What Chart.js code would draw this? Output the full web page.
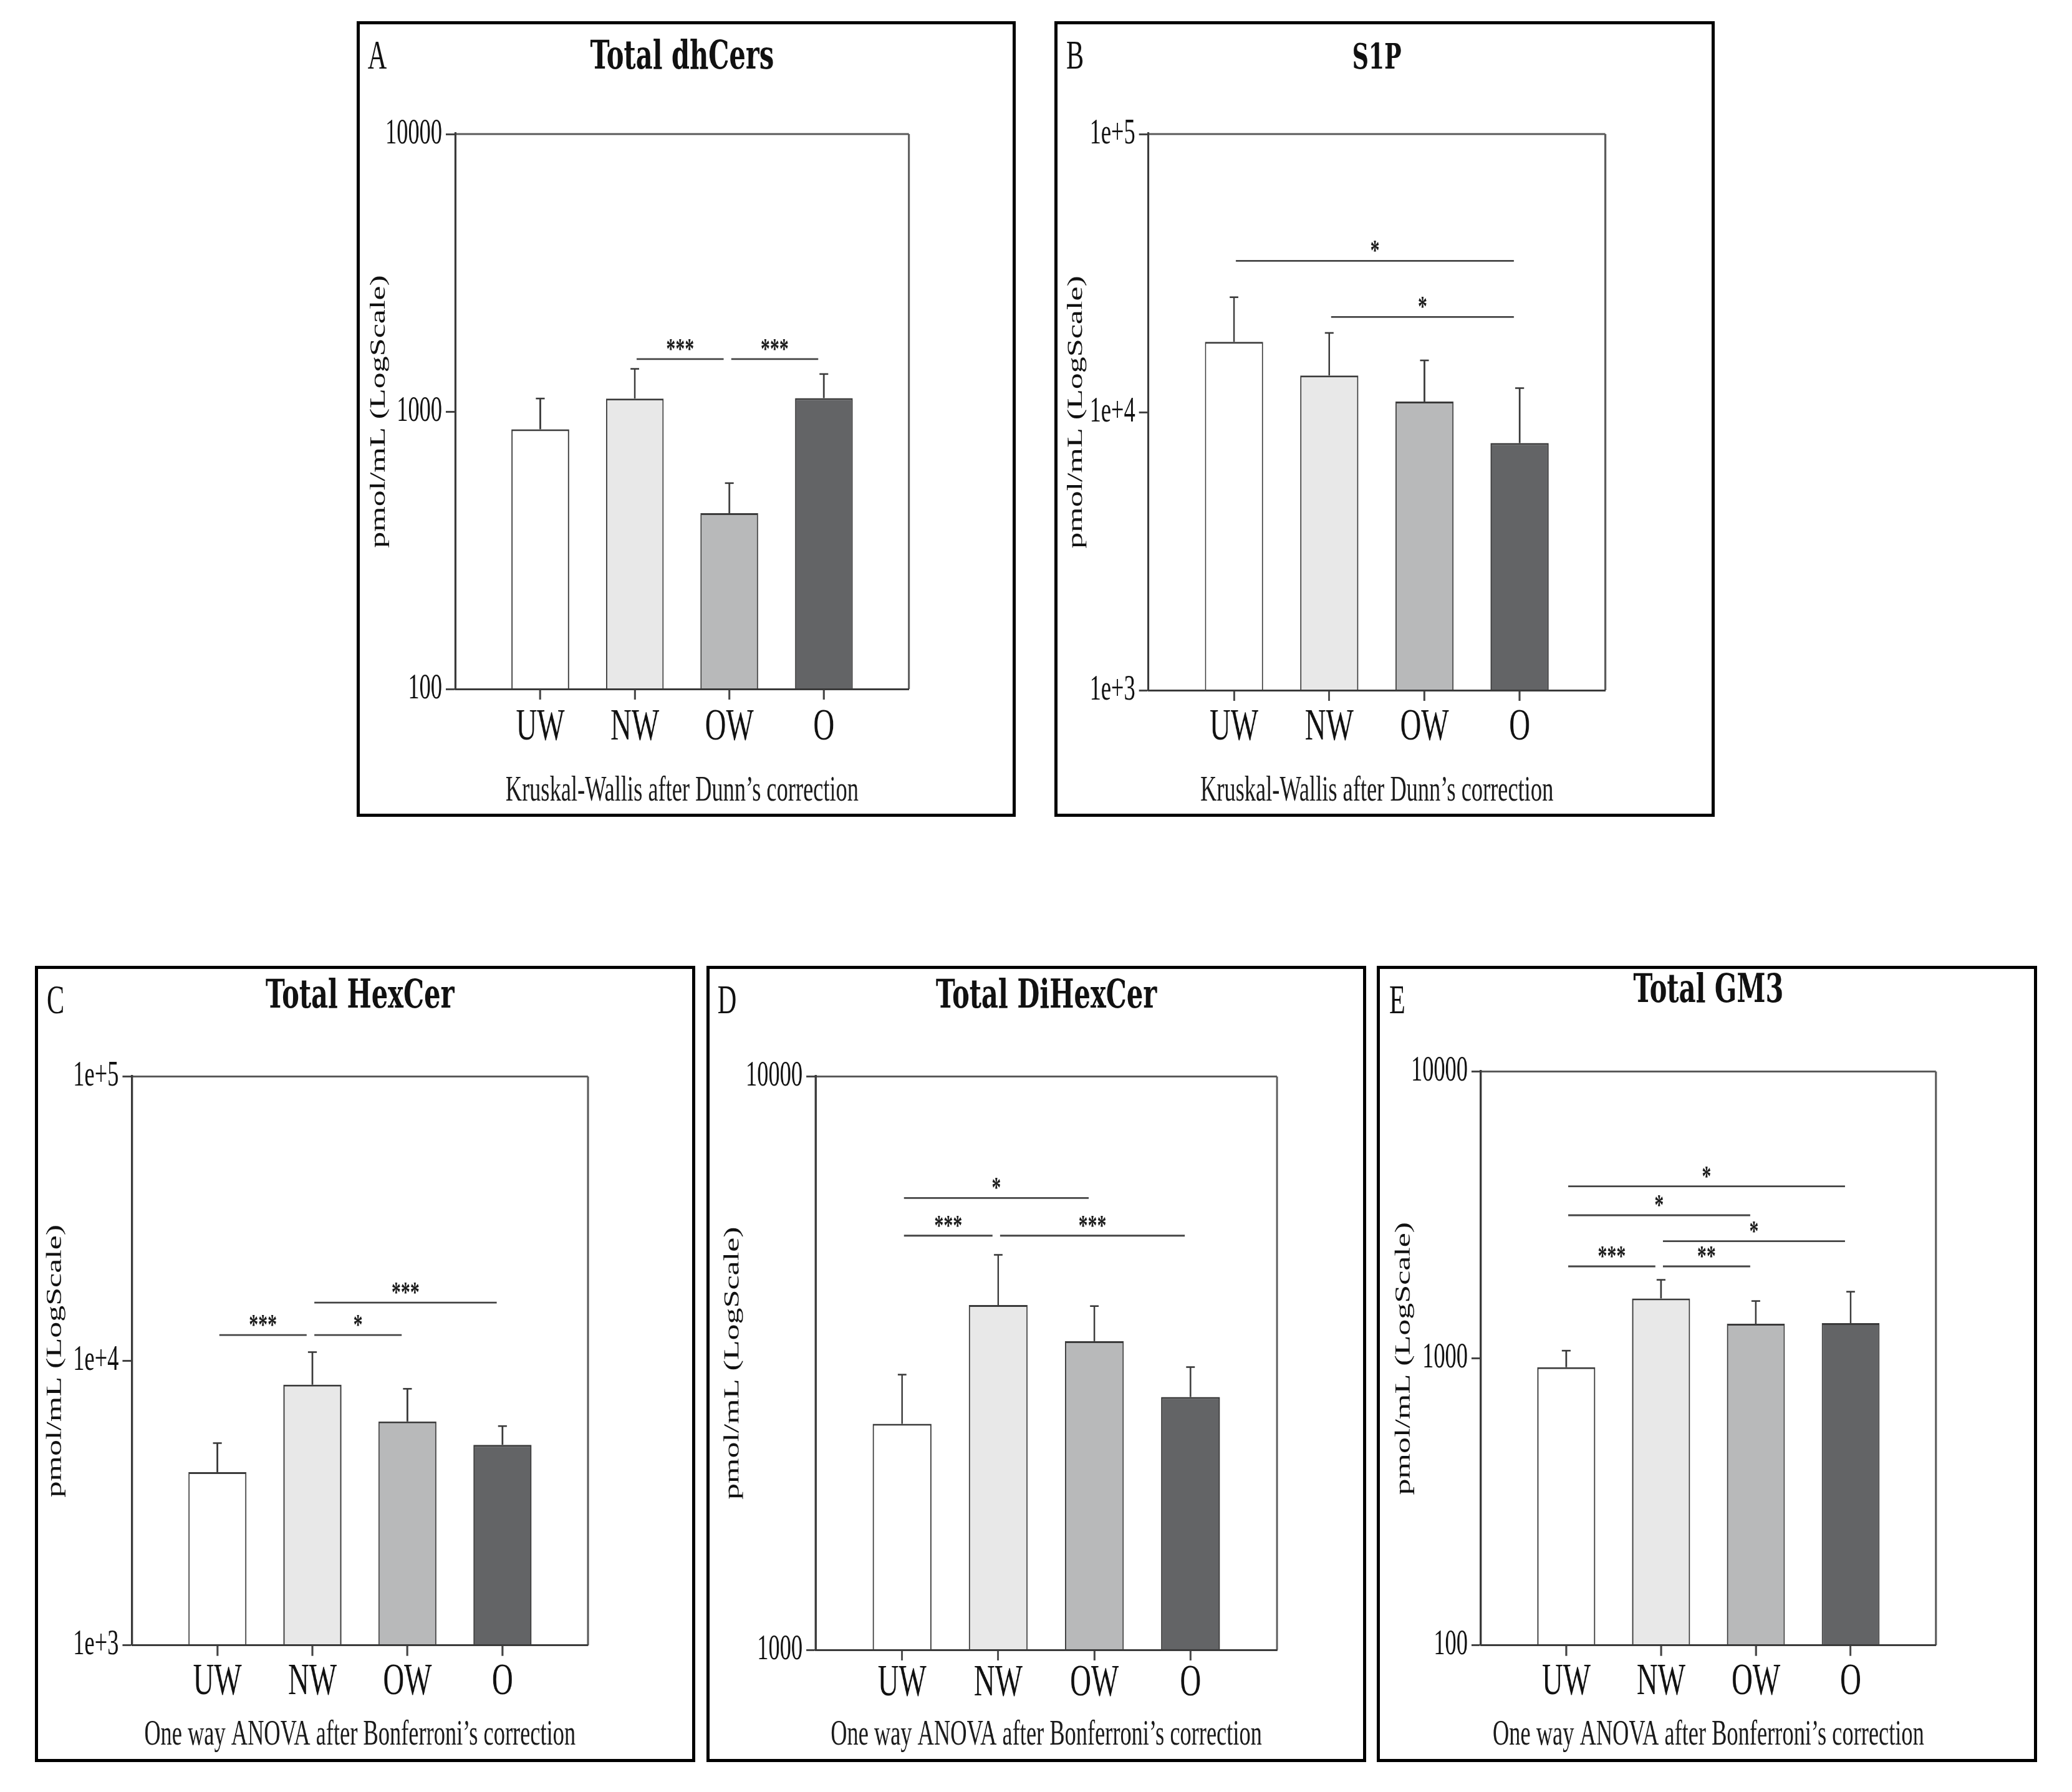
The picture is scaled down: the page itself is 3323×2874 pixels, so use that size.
<!DOCTYPE html>
<html>
<head>
<meta charset="utf-8">
<script src="https://cdn.jsdelivr.net/npm/chart.js@4.4.1/dist/chart.umd.min.js"></script>
<style>
  html, body { margin: 0; padding: 0; background: #fff; }
  body { width: 3323px; height: 2874px; position: relative; overflow: hidden; }
  .panel { position: absolute; box-sizing: border-box; border: 5px solid #000; }
  .panel canvas { position: absolute; left: -5px; top: -5px; }
  .letter { position: absolute; font-family: 'Liberation Serif', serif; font-size: 65px; line-height: 1;
            color: #111; transform: translate(-50%, -50%) scaleX(0.65); }
</style>
</head>
<body>
<script>
const CATEGORIES = ['UW', 'NW', 'OW', 'O'];

const dhCersMean = [863, 1114, 430, 1118];
const dhCersErrTop = [1114, 1425, 552, 1365];
const dhCersSig = [[1, 2, 1545, '***'], [2, 3, 1545, '***']];

const s1pMean = [17900, 13550, 10920, 7740];
const s1pErrTop = [25900, 19270, 15350, 12200];
const s1pSig = [[0, 3, 35000, '*'], [1, 3, 22000, '*']];

const hexCerMean = [4065, 8250, 6125, 5070];
const hexCerErrTop = [5140, 10740, 7980, 5900];
const hexCerSig = [[0, 1, 12330, '***'], [1, 2, 12330, '*'], [1, 3, 16040, '***']];

const diHexCerMean = [2478, 3994, 3455, 2760];
const diHexCerErrTop = [3020, 4886, 3977, 3113];
const diHexCerSig = [[0, 2, 6140, '*'], [0, 1, 5277, '***'], [1, 3, 5277, '***']];

const gm3Mean = [932, 1618, 1321, 1327];
const gm3ErrTop = [1064, 1879, 1585, 1708];
const gm3Sig = [[0, 3, 3980, '*'], [0, 2, 3155, '*'], [1, 3, 2563, '*'], [0, 1, 2093, '***'], [1, 2, 2093, '**']];

const ticksDec2 = [100, 1000, 10000];
const ticksDec2Labels = ['100', '1000', '10000'];
const ticksSci = [1000, 10000, 100000];
const ticksSciLabels = ['1e+3', '1e+4', '1e+5'];
const ticksDec1 = [1000, 10000];
const ticksDec1Labels = ['1000', '10000'];

const KW_TEXT = 'Kruskal-Wallis after Dunn\u2019s correction';
const ANOVA_TEXT = 'One way ANOVA after Bonferroni\u2019s correction';
const Y_TITLE = 'pmol/mL (LogScale)';

const BAR_COLORS = ['#ffffff', '#e8e8e8', '#b8b9ba', '#636466'];
const SERIF = "'Liberation Serif', 'Times New Roman', serif";
const TITLE_FONT = "'DejaVu Serif', 'Liberation Serif', serif";
const K = 0.65; // the figure is horizontally squeezed

// box: outer panel rect, plot: [left, right, top, bottom] relative to the box (css px)
const PANELS = [
  { letter: 'A', title: 'Total dhCers', titleSize: 64, mean: dhCersMean, err: dhCersErrTop, sig: dhCersSig,
    ticks: ticksDec2, tickLabels: ticksDec2Labels, test: KW_TEXT,
    box: [572, 34, 1057, 1276], plot: [158, 885.7, 181, 1071], titleY: 59, subY: 1235, xlabY: 1133.5, yTitleX: 36 },
  { letter: 'B', title: 'S1P', titleSize: 56, mean: s1pMean, err: s1pErrTop, sig: s1pSig,
    ticks: ticksSci, tickLabels: ticksSciLabels, test: KW_TEXT,
    box: [1691, 34, 1059, 1276], plot: [150.6, 883.6, 181, 1073], titleY: 61, subY: 1235, xlabY: 1133.5, yTitleX: 35 },
  { letter: 'C', title: 'Total HexCer', titleSize: 64, mean: hexCerMean, err: hexCerErrTop, sig: hexCerSig,
    ticks: ticksSci, tickLabels: ticksSciLabels, test: ANOVA_TEXT,
    box: [56, 1549, 1059, 1277], plot: [155.4, 887, 177.6, 1089.7], titleY: 50, subY: 1234, xlabY: 1149, yTitleX: 33 },
  { letter: 'D', title: 'Total DiHexCer', titleSize: 64, mean: diHexCerMean, err: diHexCerErrTop, sig: diHexCerSig,
    ticks: ticksDec1, tickLabels: ticksDec1Labels, test: ANOVA_TEXT,
    box: [1133, 1549, 1058, 1277], plot: [175, 915, 177.5, 1097], titleY: 50, subY: 1234, xlabY: 1151, yTitleX: 42.5 },
  { letter: 'E', title: 'Total GM3', titleSize: 64, mean: gm3Mean, err: gm3ErrTop, sig: gm3Sig,
    ticks: ticksDec2, tickLabels: ticksDec2Labels, test: ANOVA_TEXT,
    box: [2208, 1549, 1059, 1277], plot: [167, 896.8, 169.5, 1089.7], titleY: 41.6, subY: 1234, xlabY: 1149, yTitleX: 44 }
];

// error bars, top/right frame and significance brackets
const overlay = p => ({
  id: 'overlay' + p.letter,
  afterDatasetsDraw(chart) {
    const { ctx, chartArea: a, scales: { x, y } } = chart;
    ctx.save();
    ctx.strokeStyle = '#5a5a5a';
    ctx.lineWidth = 3;
    ctx.beginPath(); ctx.moveTo(a.left, a.top); ctx.lineTo(a.right, a.top); ctx.stroke();
    ctx.lineWidth = 3 / K;
    ctx.beginPath(); ctx.moveTo(a.right, a.top); ctx.lineTo(a.right, a.bottom); ctx.stroke();

    ctx.strokeStyle = '#3a3a3a';
    p.err.forEach((top, i) => {
      const px = x.getPixelForValue(i);
      const y0 = y.getPixelForValue(p.mean[i]);
      const y1 = y.getPixelForValue(top);
      ctx.lineWidth = 2.6 / K;
      ctx.beginPath(); ctx.moveTo(px, y0); ctx.lineTo(px, y1); ctx.stroke();
      ctx.lineWidth = 2.6;
      ctx.beginPath(); ctx.moveTo(px - 7 / K, y1); ctx.lineTo(px + 7 / K, y1); ctx.stroke();
    });

    ctx.strokeStyle = '#444';
    ctx.fillStyle = '#1a1a1a';
    ctx.lineWidth = 2.8;
    ctx.font = 'bold 46px ' + SERIF;
    ctx.textAlign = 'center';
    ctx.textBaseline = 'alphabetic';
    p.sig.forEach(([i, j, v, label]) => {
      const x1 = x.getPixelForValue(i + 0.02);
      const x2 = x.getPixelForValue(j - 0.06);
      const py = y.getPixelForValue(v);
      ctx.beginPath(); ctx.moveTo(x1, py); ctx.lineTo(x2, py); ctx.stroke();
      ctx.fillText(label, (x1 + x2) / 2, py - 1);
    });
    ctx.restore();
  }
});

function buildPanel(p) {
  const [bx, by, bw, bh] = p.box;
  const [pl, pr, pt, pb] = p.plot;

  const div = document.createElement('div');
  div.className = 'panel';
  Object.assign(div.style, { left: bx + 'px', top: by + 'px', width: bw + 'px', height: bh + 'px' });
  const canvas = document.createElement('canvas');
  canvas.width = Math.round(bw / K);
  canvas.height = bh;
  canvas.style.width = bw + 'px';
  canvas.style.height = bh + 'px';
  div.appendChild(canvas);
  document.body.appendChild(div);

  const letter = document.createElement('div');
  letter.className = 'letter';
  letter.textContent = p.letter;
  Object.assign(letter.style, { left: (bx + 33) + 'px', top: (by + 54) + 'px' });
  document.body.appendChild(letter);

  const ts = p.titleSize;
  new Chart(canvas, {
    type: 'bar',
    data: {
      datasets: [{
        data: p.mean.map((v, i) => ({ x: i, y: v })),
        backgroundColor: BAR_COLORS,
        borderColor: '#3a3a3a',
        borderWidth: 3,
        barPercentage: 0.61,
        categoryPercentage: 1
      }]
    },
    options: {
      responsive: false,
      devicePixelRatio: 1,
      animation: false,
      events: [],
      layout: { padding: { left: 0, top: 0, bottom: 0, right: (bw - pr) / K } },
      plugins: {
        legend: { display: false },
        tooltip: { enabled: false },
        title: {
          display: true, text: p.title, fullSize: false, color: '#111',
          font: { family: TITLE_FONT, size: ts, weight: 'bold', lineHeight: 1 },
          padding: { top: p.titleY - ts / 2, bottom: pt - p.titleY - ts / 2 }
        },
        subtitle: {
          display: true, position: 'bottom', text: p.test, fullSize: false, color: '#1a1a1a',
          font: { family: SERIF, size: 56, lineHeight: 1 },
          padding: { top: 0, bottom: bh - p.subY - 28 }
        }
      },
      scales: {
        x: {
          type: 'linear', min: -0.9, max: 3.9, offset: false,
          afterBuildTicks: s => { s.ticks = CATEGORIES.map((_, i) => ({ value: i })); },
          afterFit: s => { s.height = p.subY - 28 - pb; },
          ticks: {
            callback: v => CATEGORIES[v], autoSkip: false, maxRotation: 0, color: '#111',
            font: { family: SERIF, size: 72, lineHeight: 1 },
            padding: p.xlabY - pb - 17 - 36
          },
          grid: { display: true, drawOnChartArea: false, drawTicks: true, tickLength: 17, tickWidth: 3 / K, tickColor: '#444', offset: false },
          border: { display: true, color: '#3a3a3a', width: 3, z: 1 }
        },
        y: {
          type: 'logarithmic', min: p.ticks[0], max: p.ticks[p.ticks.length - 1],
          afterBuildTicks: s => { s.ticks = p.ticks.map(v => ({ value: v })); },
          afterFit: s => { s.width = pl / K; },
          ticks: {
            callback: v => p.tickLabels[p.ticks.indexOf(v)], autoSkip: false, color: '#111',
            font: { family: SERIF, size: 56, lineHeight: 1 },
            padding: 6 / K
          },
          grid: { display: true, drawOnChartArea: false, drawTicks: true, tickLength: 15 / K, tickWidth: 3, tickColor: '#444' },
          border: { display: true, color: '#3a3a3a', width: 3.3 / K, z: 1 },
          title: {
            display: true, text: Y_TITLE, color: '#111',
            font: { family: SERIF, size: 52, lineHeight: 1 },
            padding: { top: p.yTitleX / K - 26, bottom: 0 }
          }
        }
      }
    },
    plugins: [overlay(p)]
  });
}

PANELS.forEach(buildPanel);
</script>
</body>
</html>
